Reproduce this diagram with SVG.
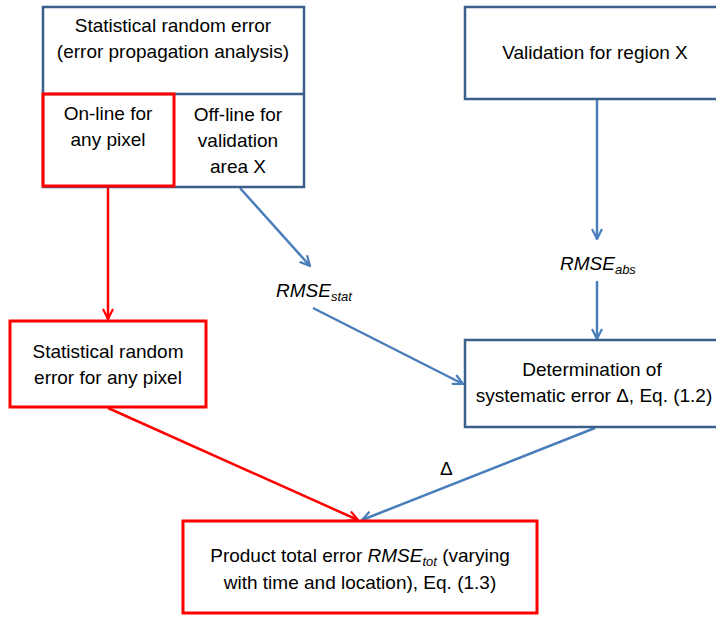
<svg xmlns="http://www.w3.org/2000/svg" width="716" height="617" viewBox="0 0 716 617">
<defs>
<style>
text{font-family:"Liberation Sans",Arial,sans-serif;font-size:19px;fill:#000;}
.c{text-anchor:middle;}
.i{font-style:italic;}
.bb{fill:#fff;stroke:#3A5F8B;stroke-width:2.5;}
.rb{fill:none;stroke:#FF0000;stroke-width:3;}
.rw{fill:#fff;stroke:#FF0000;stroke-width:3;}
.ba{fill:none;stroke:#4A7EBB;stroke-width:2.5;marker-end:url(#mb);}
.ra{fill:none;stroke:#FF0000;stroke-width:2.5;marker-end:url(#mr);}
</style>
<marker id="mb" viewBox="0 0 12 12" refX="11" refY="6" markerWidth="12" markerHeight="12" markerUnits="userSpaceOnUse" orient="auto">
<path d="M1,1 L11,6 L1,11" fill="none" stroke="#4A7EBB" stroke-width="2.2"/>
</marker>
<marker id="mr" viewBox="0 0 12 12" refX="11" refY="6" markerWidth="12" markerHeight="12" markerUnits="userSpaceOnUse" orient="auto">
<path d="M1,1 L11,6 L1,11" fill="none" stroke="#FF0000" stroke-width="2.2"/>
</marker>
</defs>
<g id="connectors">
<path class="ra" d="M108,187 L108,319"/>
<path class="ba" d="M240,188 L310,266"/>
<path class="ba" d="M313,308 L463,384"/>
<path class="ba" d="M597,100 L597,239"/>
<path class="ba" d="M597,281 L597,339"/>
<path class="ra" d="M108,408 L358,520"/>
<path class="ba" d="M595,428 L362,520"/>
</g>
<g id="stat-random">
<rect class="bb" x="43" y="7" width="261" height="180"/>
<line x1="43" y1="94" x2="304" y2="94" stroke="#3A5F8B" stroke-width="2.5"/>
<text class="c" x="173" y="32">Statistical random error</text>
<text class="c" x="173" y="58">(error propagation analysis)</text>
</g>
<g id="online">
<rect class="rb" x="43" y="94" width="131" height="92"/>
<text class="c" x="108" y="120">On-line for</text>
<text class="c" x="108" y="146">any pixel</text>
</g>
<g id="offline">
<text class="c" x="238" y="121">Off-line for</text>
<text class="c" x="238" y="147">validation</text>
<text class="c" x="238" y="173">area X</text>
</g>
<g id="validation">
<rect class="bb" x="465" y="7" width="260" height="92"/>
<text class="c" x="595" y="59">Validation for region X</text>
</g>
<g id="rmse-stat">
<text class="i" x="276" y="297">RMSE<tspan font-size="13" dy="4">stat</tspan></text>
</g>
<g id="rmse-abs">
<text class="i" x="560" y="270">RMSE<tspan font-size="13" dy="4">abs</tspan></text>
</g>
<g id="determination">
<rect class="bb" x="465" y="340" width="260" height="87"/>
<text class="c" x="592" y="376">Determination of</text>
<text class="c" x="594" y="402">systematic error Δ, Eq. (1.2)</text>
</g>
<g id="stat-pixel">
<rect class="rw" x="10" y="321" width="196" height="86"/>
<text class="c" x="108" y="358">Statistical random</text>
<text class="c" x="108" y="384">error for any pixel</text>
</g>
<g id="delta">
<text x="440" y="475">Δ</text>
</g>
<g id="product">
<rect class="rw" x="183" y="521" width="354" height="92"/>
<text class="c" x="360" y="562">Product total error <tspan class="i">RMSE</tspan><tspan class="i" font-size="13" dy="4">tot</tspan><tspan dy="-4"> (varying</tspan></text>
<text class="c" x="360" y="589">with time and location), Eq. (1.3)</text>
</g>
</svg>
